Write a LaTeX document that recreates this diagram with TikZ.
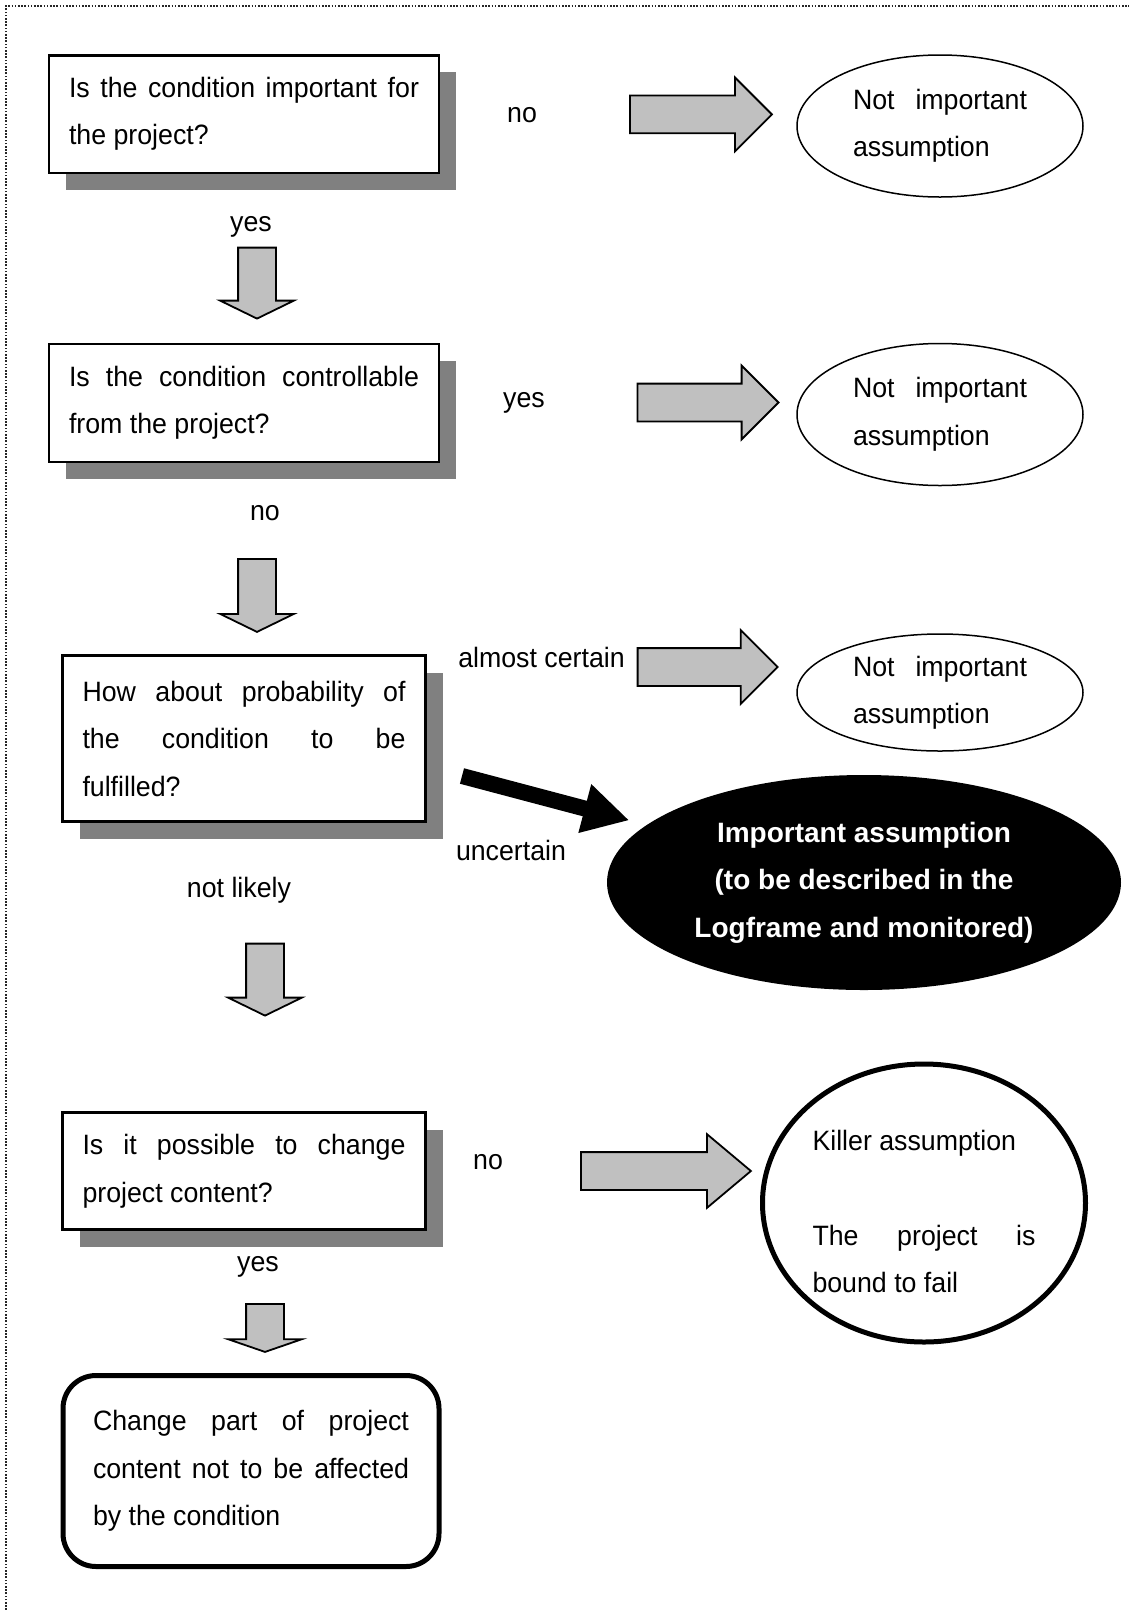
\documentclass[tikz,border=0pt]{standalone}
\usepackage{fontspec}
\setmainfont[FakeStretch=0.955]{Liberation Sans}
\newfontfamily\impfont{Liberation Sans}
\usetikzlibrary{shapes.geometric,shapes.arrows,shadows,arrows.meta}
\definecolor{arrowgray}{HTML}{C0C0C0}
\definecolor{shadowgray}{HTML}{808080}
\tolerance=10000
\hbadness=10000

\begin{document}
\begin{tikzpicture}[x=1pt, y=-1pt,
  every node/.style={font=\fontsize{28}{47.5}\selectfont},
  question/.style={rectangle, draw, line width=2.5pt, fill=white,
    inner xsep=20pt, inner ysep=0pt, align=justify,
    drop shadow={shadow xshift=17pt, shadow yshift=-17pt, fill=shadowgray, opacity=1}},
  answer/.style={ellipse, draw, line width=1.5pt, inner sep=0pt,
    minimum width=286pt, minimum height=142pt, text width=174pt, align=justify},
  blockarrow/.style={single arrow, draw, line width=1.8pt, fill=arrowgray, anchor=tail,
    inner xsep=0pt, inner ysep=18pt, minimum width=72pt, single arrow head extend=18pt},
  rightarrow/.style={blockarrow, minimum height=#1, single arrow tip angle=90},
  downarrow/.style={blockarrow, rotate=-90, minimum height=#1, single arrow tip angle=128},
  fatarrow/.style={line width=16pt, -{Triangle[length=46pt, width=47pt]}},
  lab/.style={inner sep=0pt}]
  \useasboundingbox (0,0) rectangle (1129,1610);
  \draw[black!85, line width=1.6pt, dash pattern=on 1.6pt off 1.6pt] (6,1610) -- (6,6) -- (1129,6);

  % questions
  \node[question, text width=350pt, minimum height=117.5pt] (important) at (244,114)
    {Is the condition important for\linebreak the project?};
  \node[question, text width=350pt, minimum height=118pt] (control) at (244,403)
    {Is the condition controllable\linebreak from the project?};
  \node[question, text width=323pt, minimum height=166pt] (prob) at (244,738.5)
    {How about probability of\linebreak the condition to be\linebreak fulfilled?};
  \node[question, text width=323pt, minimum height=117pt] (change) at (244,1171)
    {Is it possible to change\linebreak project content?};
  \node[rectangle, draw, line width=5pt, rounded corners=33pt, inner xsep=30pt,
    inner ysep=0pt, text width=316pt, minimum height=191pt, align=justify] (final) at (251,1471)
    {Change part of project\linebreak content not to be affected\linebreak by the condition};

  % answers
  \node[answer] (notimp1) at (940,126) {Not important\linebreak assumption};
  \node[answer] (notimp2) at (940,414.5) {Not important\linebreak assumption};
  \node[answer, minimum height=117pt] (notimp3) at (940,692.5) {Not important\linebreak assumption};
  \node[ellipse, fill=black, text=white, inner sep=0pt, align=center,
    minimum width=514pt, minimum height=215pt,
    font=\fontsize{28}{47.5}\impfont\bfseries] (imp) at (864,882.5)
    {Important assumption\\(to be described in the\\Logframe and monitored)};
  \node[ellipse, draw, line width=5pt, minimum width=323pt, minimum height=278pt] (killer) at (924,1203) {};
  \node[text width=223pt, align=justify, inner sep=0pt] (killtext) at ([yshift=-8.5pt]killer.center)
    {Killer assumption\\[47.5pt]The project is\linebreak bound to fail};

  % block arrows
  \node[rightarrow=142pt] (a1) at (629,114.4) {};
  \node[rightarrow=141pt] (a2) at (636.6,402.5) {};
  \node[rightarrow=140pt] (a3) at (636.7,667) {};
  \node[rightarrow=170pt, single arrow tip angle=80] (a4) at (580,1171) {};
  \node[downarrow=71pt] (d1) at (257,246.7) {};
  \node[downarrow=73pt] (d2) at (257,558) {};
  \node[downarrow=72pt] (d3) at (265,942.7) {};
  \node[downarrow=48pt, single arrow tip angle=142] (d4) at (265,1303) {};

  \coordinate (unc) at (462,776);
  \draw[fatarrow, shorten >=18pt] (unc) -- (imp);

  % labels
  \node[lab] at (522,115) {no};
  \node[lab] at (251,227) {yes};
  \node[lab] at (524,403) {yes};
  \node[lab] at (265,513) {no};
  \node[lab] at (541.5,657.7) {almost certain};
  \node[lab] at (511,850) {uncertain};
  \node[lab] at (239,890) {not likely};
  \node[lab] at (488,1161.7) {no};
  \node[lab] at (258,1267) {yes};
\end{tikzpicture}
\end{document}
